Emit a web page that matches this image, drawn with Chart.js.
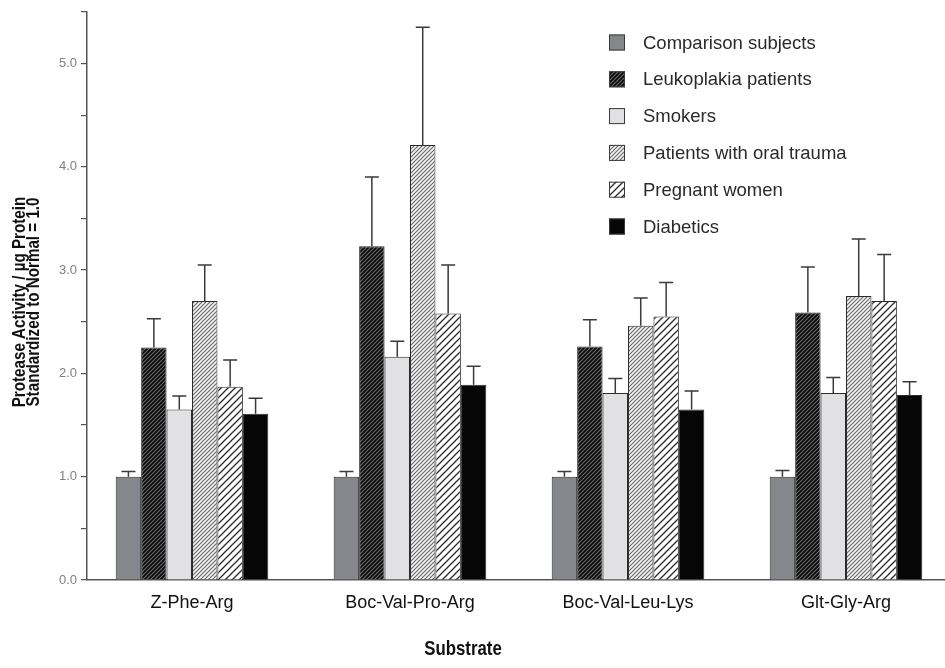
<!DOCTYPE html>
<html>
<head>
<meta charset="utf-8">
<script src="https://cdn.jsdelivr.net/npm/chart.js@4.4.0/dist/chart.umd.min.js"></script>
<style>
  html, body { margin: 0; padding: 0; background: #fff; }
  #wrap { width: 945px; height: 668px; }
</style>
</head>
<body>
<div id="wrap"><canvas id="chartBars"></canvas></div>
<script>
// substrates on the x axis
const substrates = ["Z-Phe-Arg", "Boc-Val-Pro-Arg", "Boc-Val-Leu-Lys", "Glt-Gly-Arg"];
const groupNames = ["Comparison subjects", "Leukoplakia patients", "Smokers",
                    "Patients with oral trauma", "Pregnant women", "Diabetics"];

// mean activity, standardized to normal = 1.0
const comparison = [1.00, 1.00, 1.00, 1.00];
const leukoplakia = [2.25, 3.23, 2.26, 2.59];
const smokers = [1.65, 2.16, 1.81, 1.81];
const oralTrauma = [2.70, 4.21, 2.46, 2.75];
const pregnant = [1.87, 2.58, 2.55, 2.70];
const diabetics = [1.61, 1.89, 1.65, 1.79];

// upper error bar lengths
const comparisonErr = [0.05, 0.05, 0.05, 0.06];
const leukoplakiaErr = [0.28, 0.67, 0.26, 0.44];
const smokersErr = [0.13, 0.15, 0.14, 0.15];
const oralTraumaErr = [0.35, 1.14, 0.27, 0.55];
const pregnantErr = [0.26, 0.47, 0.33, 0.45];
const diabeticsErr = [0.15, 0.18, 0.18, 0.13];

const yTicks = [0, 1, 2, 3, 4, 5];
const yTitle = ['Protease Activity / \u00b5g Protein', 'Standardized to Normal = 1.0'];
const xTitle = 'Substrate';

const SANS = "'Liberation Sans', Arial, Helvetica, sans-serif";

function hatch(size, bg, line, width) {
    const c = document.createElement('canvas');
    c.width = size; c.height = size;
    const g = c.getContext('2d');
    g.fillStyle = bg;
    g.fillRect(0, 0, size, size);
    g.strokeStyle = line;
    g.lineWidth = width;
    g.beginPath();
    g.moveTo(-1, size + 1); g.lineTo(size + 1, -1);
    g.moveTo(-1, 1); g.lineTo(1, -1);
    g.moveTo(size - 1, size + 1); g.lineTo(size + 1, size - 1);
    g.stroke();
    return g.createPattern(c, 'repeat');
}

const fills = [
    '#86868d',
    hatch(4, '#6e6e6e', '#0a0a0a', 1.8),
    '#e1e1e3',
    hatch(4, '#f6f6f6', '#6a6a6a', 1.2),
    hatch(7, '#ffffff', '#2a2a2a', 1.3),
    '#060606'
];

const seriesValues = [comparison, leukoplakia, smokers, oralTrauma, pregnant, diabetics];
const seriesErrors = [comparisonErr, leukoplakiaErr, smokersErr, oralTraumaErr, pregnantErr, diabeticsErr];

const datasets = groupNames.map((name, k) => ({
    label: name,
    data: seriesValues[k].map((v, i) => ({ x: i, y: v })),
    errors: seriesErrors[k],
    backgroundColor: fills[k],
    borderColor: '#2b2b2b',
    borderWidth: 1,
    barPercentage: 1.0,
    categoryPercentage: 0.7,
}));

const errorBars = {
    id: 'errorBars',
    afterDatasetsDraw(chart) {
        const ctx = chart.ctx;
        const yScale = chart.scales.y;
        chart.data.datasets.forEach((ds, di) => {
            const meta = chart.getDatasetMeta(di);
            meta.data.forEach((bar, i) => {
                const top = yScale.getPixelForValue(ds.data[i].y + ds.errors[i]);
                ctx.save();
                ctx.strokeStyle = '#3a3a3a';
                ctx.lineWidth = 1.5;
                ctx.beginPath();
                ctx.moveTo(bar.x, bar.y);
                ctx.lineTo(bar.x, top);
                ctx.moveTo(bar.x - 7, top);
                ctx.lineTo(bar.x + 7, top);
                ctx.stroke();
                ctx.restore();
            });
        });
    }
};

// condensed bold text: no narrow font here, so squeeze a normal one
function narrowText(ctx, text, x, y, rot) {
    ctx.save();
    ctx.translate(x, y);
    ctx.rotate(rot);
    ctx.scale(0.8, 1);
    ctx.fillText(text, 0, 0);
    ctx.restore();
}

// legend inside the plot + axis titles
const extras = {
    id: 'extras',
    afterDraw(chart) {
        const ctx = chart.ctx;
        ctx.save();
        chart.data.datasets.forEach((ds, k) => {
            const cy = 42.5 + k * 36.8;
            ctx.fillStyle = ds.backgroundColor;
            ctx.fillRect(609, cy - 8, 16, 16);
            ctx.strokeStyle = '#3a3a3a';
            ctx.lineWidth = 1;
            ctx.strokeRect(609.5, cy - 7.5, 15, 15);
            ctx.fillStyle = '#2a2a2a';
            ctx.font = '18.5px ' + SANS;
            ctx.textBaseline = 'middle';
            ctx.textAlign = 'left';
            ctx.fillText(ds.label, 643, cy + 1);
        });
        ctx.fillStyle = '#111';
        ctx.textAlign = 'center';
        ctx.textBaseline = 'middle';
        ctx.font = 'bold 21px ' + SANS;
        narrowText(ctx, xTitle, 463, 649, 0);
        ctx.font = 'bold 19px ' + SANS;
        narrowText(ctx, yTitle[0], 20, 302, -Math.PI / 2);
        narrowText(ctx, yTitle[1], 34, 302, -Math.PI / 2);
        ctx.restore();
    }
};

new Chart(document.getElementById('chartBars'), {
    type: 'bar',
    data: { datasets: datasets },
    options: {
        responsive: true,
        maintainAspectRatio: false,
        animation: false,
        layout: { padding: { top: 10, left: 0, right: 0, bottom: 0 } },
        plugins: {
            legend: { display: false },
            tooltip: { enabled: false },
        },
        scales: {
            x: {
                type: 'linear',
                min: -0.4817,
                max: 3.4541,
                offset: false,
                grid: { display: false },
                border: { display: true, color: '#555', width: 1.5 },
                ticks: {
                    color: '#111',
                    font: { family: SANS, size: 18 },
                    padding: 4,
                    maxRotation: 0,
                    autoSkip: false,
                    callback: (v) => substrates[v] ?? '',
                },
                afterBuildTicks: (s) => { s.ticks = substrates.map((_, i) => ({ value: i })); },
                afterFit: (s) => { s.height = 88; },
            },
            y: {
                min: 0,
                max: 5.5,
                ticks: {
                    stepSize: 0.5,
                    color: '#808080',
                    font: { family: SANS, size: 13 },
                    padding: 4,
                    autoSkip: false,
                    callback: (v) => yTicks.includes(v) ? v.toFixed(1) : '',
                },
                grid: { display: true, drawOnChartArea: false, drawTicks: true, tickLength: 6, color: '#555', lineWidth: 1.2 },
                border: { display: true, color: '#555', width: 1.5 },
                afterFit: (s) => { s.width = 87; },
            }
        }
    },
    plugins: [errorBars, extras]
});
</script>
</body>
</html>
